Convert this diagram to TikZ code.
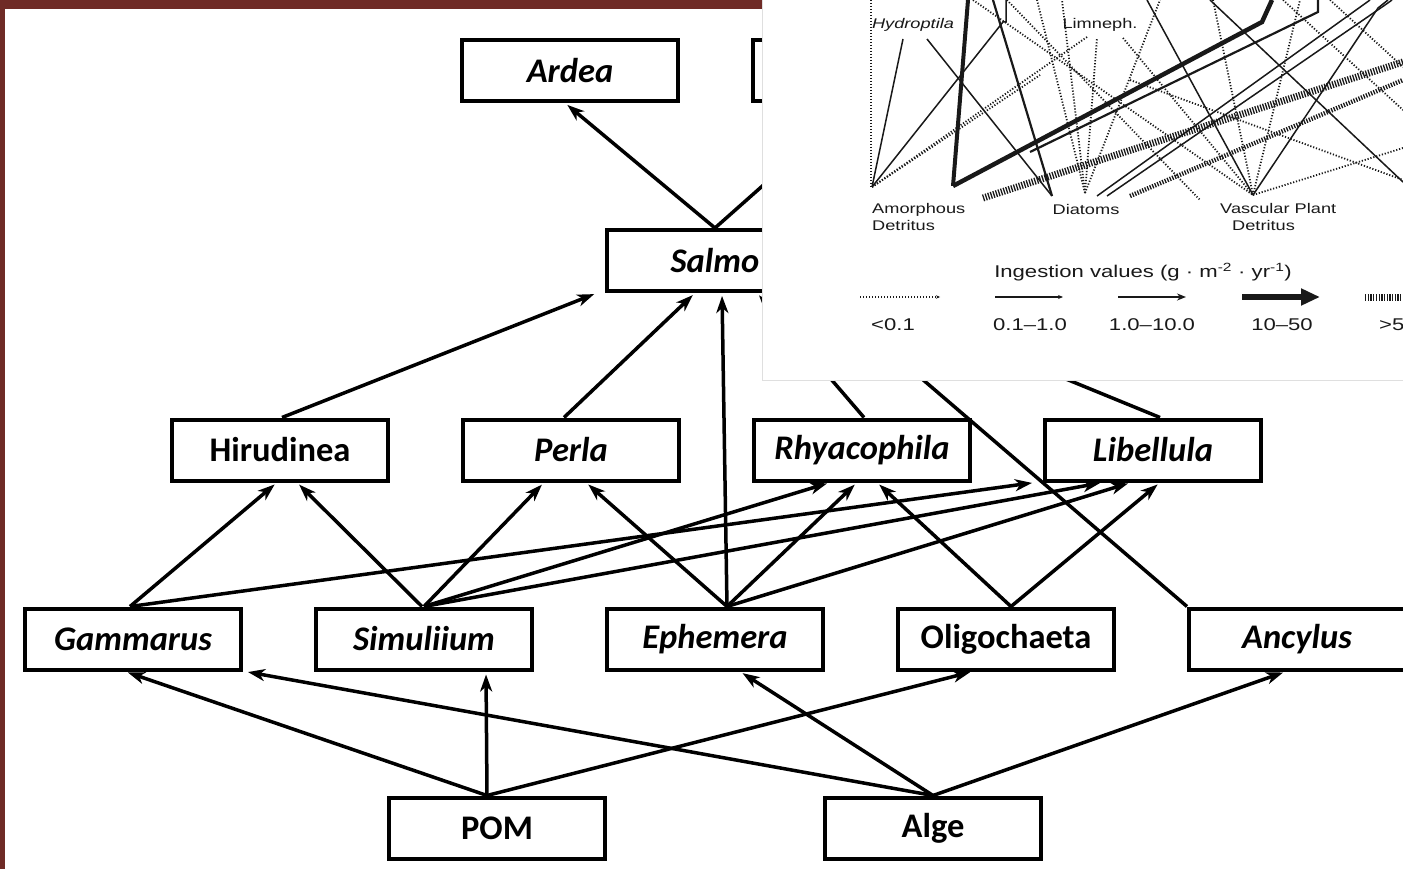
\documentclass[tikz,border=0pt]{standalone}
\usepackage{fontspec}
\setmainfont{Carlito}
\newfontfamily\insetfont[FakeStretch=1.3]{Liberation Sans}
\usepackage{tikz}
\usetikzlibrary{arrows.meta,positioning,calc}
\definecolor{slideframe}{RGB}{111,43,38}
\definecolor{webink}{RGB}{25,25,25}

\begin{document}
\begin{tikzpicture}[
    x=1pt, y=-1pt,
    node distance=71pt,
    taxon/.style={rectangle, draw, line width=4pt, minimum width=216pt, minimum height=61pt, inner sep=0pt, font=\fontsize{34.5}{40}\selectfont\bfseries},
    genus/.style={taxon, font=\fontsize{34.5}{40}\selectfont\bfseries\itshape},
    feeds/.style={-{Stealth[length=17pt, width=12pt, inset=5pt]}, line width=3.5pt, shorten >=3pt},
    thinweb/.style={webink, line width=1.5pt},
    dotweb/.style={webink, line width=1.8pt, dash pattern=on 1.2pt off 1.8pt},
    medweb/.style={webink, line width=2.2pt},
    thickweb/.style={webink, line width=4.5pt},
    hatchweb/.style={webink, line width=7pt, dash pattern=on 1.3pt off 1.4pt},
    lbl/.style={inner sep=0pt, text=webink, font=\insetfont\fontsize{14}{17}\selectfont},
    keytext/.style={inner sep=0pt, text=webink, font=\insetfont\fontsize{17}{20}\selectfont}
]
    \useasboundingbox (0,0) rectangle (1403,869);
    \clip (0,0) rectangle (1403,869);

    % --- 1. Slide frame ---
    \fill[slideframe] (0,0) rectangle (1403,9);
    \fill[slideframe] (0,0) rectangle (5,869);

    % --- 2. Taxa ---
    % top predators
    \node[genus] (ardea) at (570,70.5) {Ardea};
    \node[genus, right=of ardea] (top2) {};
    \node[genus] (salmo) at (715,260.5) {Salmo};

    % invertebrate predators
    \node[taxon] (hir) at (280,450) {Hirudinea};
    \node[genus, right=of hir] (perla) {Perla};
    \node[genus, right=of perla] (rhy) {Rhyacophila};
    \node[genus, right=of rhy] (lib) {Libellula};

    % consumers
    \node[genus] (gam) at (133,639) {Gammarus};
    \node[genus, right=of gam] (sim) {Simuliium};
    \node[genus, right=of sim] (eph) {Ephemera};
    \node[taxon, right=of eph] (oli) {Oligochaeta};
    \node[genus, right=of oli] (anc) {Ancylus};

    % basal resources
    \node[taxon] (pom) at (497,828) {POM};
    \node[taxon, right=216pt of pom] (alge) {Alge};

    % --- 3. Feeding links ---
    \draw[feeds] (salmo.north) -- ([xshift=-5pt]ardea.south);
    \draw[feeds] (salmo.north) -- ([xshift=-5pt]top2.south);

    \draw[feeds] ([xshift=2pt]hir.north) -- ([xshift=-8pt]salmo.south west);
    \draw[feeds] ([xshift=-7pt]perla.north) -- ([xshift=-20pt]salmo.south);
    \draw[feeds] ([xshift=12pt]eph.north) -- ([xshift=7pt]salmo.south);
    \draw[feeds] ([xshift=2pt]rhy.north) -- ([xshift=42pt]salmo.south);
    \draw[feeds] (anc.north west) -- ([xshift=-3pt]salmo.south east);
    \draw[feeds] ([xshift=7pt]lib.north) -- ([xshift=4pt, yshift=11pt]salmo.south east);

    \draw[feeds] ([xshift=-3pt]gam.north) -- ([xshift=-3pt]hir.south);
    \draw[feeds] ([xshift=-2pt]sim.north) -- ([xshift=17pt]hir.south);
    \draw[feeds] (sim.north) -- ([xshift=-27pt]perla.south);
    \draw[feeds] ([xshift=12pt]eph.north) -- ([xshift=15pt]perla.south);
    \draw[feeds] ([xshift=-3pt]gam.north) -- ([xshift=-8pt]lib.south west);
    \draw[feeds] (sim.north) -- ([xshift=-32pt]rhy.south);
    \draw[feeds] (sim.north) -- ([xshift=-50pt]lib.south);
    \draw[feeds] ([xshift=12pt]eph.north) -- ([xshift=-5pt]rhy.south);
    \draw[feeds] ([xshift=12pt]eph.north) -- ([xshift=-22pt]lib.south);
    \draw[feeds] ([xshift=5pt]oli.north) -- ([xshift=15pt]rhy.south);
    \draw[feeds] ([xshift=5pt]oli.north) -- ([xshift=7pt]lib.south);

    \draw[feeds] ([xshift=-10pt]pom.north) -- ([xshift=-8pt]gam.south);
    \draw[feeds] ([xshift=-10pt]pom.north) -- ([xshift=62pt]sim.south);
    \draw[feeds] ([xshift=-10pt]pom.north) -- ([xshift=-33pt]oli.south);
    \draw[feeds] (alge.north) -- ([xshift=2pt]gam.south east);
    \draw[feeds] (alge.north) -- ([xshift=25pt]eph.south);
    \draw[feeds] (alge.north) -- ([xshift=-11pt]anc.south);

    % --- 4. Pasted figure (top right) ---
    \fill[white] (762,-1) rectangle (1404,380);
    \draw[gray!25, line width=1pt] (762,-1) -- (762,380) -- (1404,380);
    \begin{scope}
        \clip (763,0) rectangle (1403,379);
        % web lines
        \draw[dotweb] (871,0) -- (871,187);
        \draw[dotweb] (872,187) -- (1087,37);
        \draw[dotweb] (872,187) -- (1040,75);
        \draw[dotweb] (1085,193) -- (1037,0);
        \draw[dotweb] (1085,193) -- (1062,0);
        \draw[dotweb] (1085,193) -- (1097,38);
        \draw[dotweb] (1085,193) -- (1160,0);
        \draw[dotweb] (973,0) -- (1253,195);
        \draw[dotweb] (1007,0) -- (1200,200);
        \draw[dotweb] (1123,38) -- (1253,195);
        \draw[dotweb] (1253,195) -- (1213,0);
        \draw[dotweb] (1253,195) -- (1300,0);
        \draw[dotweb] (1253,195) -- (1403,148);
        \draw[dotweb] (1130,80) -- (1403,180);
        \draw[dotweb] (1283,0) -- (1403,110);
        \draw[dotweb] (1330,0) -- (1403,67);
        \draw[thinweb] (872,187) -- (903,39);
        \draw[thinweb] (927,39) -- (1052,196);
        \draw[thinweb] (872,187) -- (1003,22) -- (1006,22) -- (1006,0);
        \draw[thinweb] (1097,196) -- (1370,0);
        \draw[thinweb] (1107,196) -- (1385,5) -- (1392,0);
        \draw[thinweb] (1253,195) -- (1147,0);
        \draw[thinweb] (1253,195) -- (1378,8) -- (1388,0);
        \draw[thinweb] (1210,0) -- (1403,182);
        \draw[medweb] (993,0) -- (1052,196);
        \draw[medweb] (1030,152) -- (1318,12) -- (1318,0);
        \draw[thickweb, line width=4pt] (953,186) -- (968,0);
        \draw[thickweb] (953,186) -- (1262,22) -- (1272,0);
        \draw[hatchweb] (983,198) -- (1403,62);
        \draw[hatchweb, line width=4.5pt] (1130,196) -- (1403,80);

        % labels of the pasted web
        \node[lbl, font=\insetfont\itshape\fontsize{14}{17}\selectfont] (hydro) at (913,25) {Hydroptila};
        \node[lbl] (limn) at (1100,25) {Limneph.};
        \node[lbl, align=left, anchor=north west] (amorph) at (872,203) {Amorphous\\Detritus};
        \node[lbl] (diat) at (1086,209) {Diatoms};
        \node[lbl, align=left, anchor=north west] (vasc) at (1220,203) {Vascular Plant\\\hspace{12pt}Detritus};

        % ingestion key
        \node[keytext] (keytitle) at (1143,272) {Ingestion values (g · m\textsuperscript{-2} · yr\textsuperscript{-1})};
        \coordinate (k1a) at (860,297);  \coordinate (k1b) at (940,297);
        \coordinate (k2a) at (995,297);  \coordinate (k2b) at (1063,297);
        \coordinate (k3a) at (1118,297); \coordinate (k3b) at (1186,297);
        \coordinate (k4a) at (1242,297); \coordinate (k4b) at (1320,297);
        \coordinate (k5a) at (1365,297); \coordinate (k5b) at (1420,297);
        \draw[dotweb, line width=1.4pt, -{Stealth[length=4pt, width=3.5pt]}] (k1a) -- (k1b);
        \draw[thinweb, -{Stealth[length=5pt, width=4pt]}] (k2a) -- (k2b);
        \draw[medweb, -{Stealth[length=9pt, width=7pt]}] (k3a) -- (k3b);
        \draw[webink, line width=6pt, -{Triangle[length=19pt, width=16pt]}] (k4a) -- (k4b);
        \draw[hatchweb] (k5a) -- (k5b);
        \node[keytext] (key1) at (893,325) {<0.1};
        \node[keytext] (key2) at (1030,325) {0.1–1.0};
        \node[keytext] (key3) at (1152,325) {1.0–10.0};
        \node[keytext] (key4) at (1282,325) {10–50};
        \node[keytext, anchor=west] (key5) at (1379,325) {>50};
    \end{scope}

\end{tikzpicture}
\end{document}
